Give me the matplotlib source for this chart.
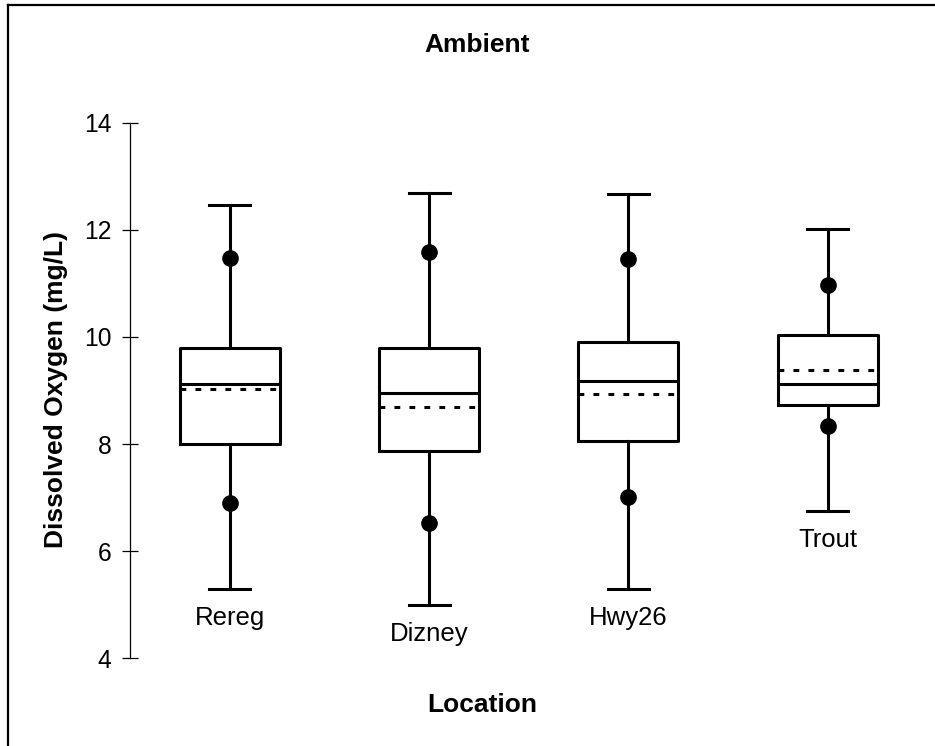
import matplotlib
matplotlib.use("Agg")
import matplotlib.pyplot as plt
from matplotlib.lines import Line2D

plt.rcParams['font.family'] = ['Liberation Sans', 'DejaVu Sans']

categories = ["Rereg", "Dizney", "Hwy26", "Trout"]
whisker_low = [5.30, 4.99, 5.29, 6.75]
p10 = [6.90, 6.53, 7.01, 8.34]
q1 = [8.00, 7.87, 8.06, 8.73]
median = [9.12, 8.96, 9.17, 9.13]
mean = [9.03, 8.69, 8.93, 9.38]
q3 = [9.79, 9.79, 9.90, 10.04]
p90 = [11.47, 11.58, 11.45, 10.97]
whisker_high = [12.47, 12.68, 12.67, 12.01]
yticks = [4, 6, 8, 10, 12, 14]

W, H = 935, 746
fig = plt.figure(figsize=(W / 100, H / 100), dpi=100)
ax = fig.add_axes([130.3 / W, 1 - 658.3 / H, (927.3 - 130.3) / W, (658.3 - 122.7) / H])

positions = list(range(1, len(categories) + 1))
stats = []
for i, c in enumerate(categories):
    stats.append(dict(label=c, med=median[i], q1=q1[i], q3=q3[i],
                      whislo=whisker_low[i], whishi=whisker_high[i],
                      mean=mean[i], fliers=[]))

lw = 2.2
ax.bxp(stats, positions=positions, widths=0.502, capwidths=0.206,
       showmeans=True, meanline=True, showfliers=False,
       boxprops=dict(color='black', linewidth=lw),
       whiskerprops=dict(color='black', linewidth=lw),
       capprops=dict(color='black', linewidth=lw),
       medianprops=dict(color='black', linewidth=lw),
       meanprops=dict(color='black', linewidth=lw, linestyle=(0, (1.9, 3.0))))

ax.plot(positions, p10, 'o', color='black', markersize=11, zorder=5)
ax.plot(positions, p90, 'o', color='black', markersize=11, zorder=5)

for i, c in enumerate(categories):
    ax.annotate(c, xy=(positions[i], whisker_low[i]), xytext=(0, -17),
                textcoords='offset pixels', ha='center', va='top', fontsize=18.5)

ax.set_xlim(0.5, len(categories) + 0.5)
ax.set_ylim(4, 14)
ax.set_yticks(yticks)
ax.set_yticklabels([str(t) for t in yticks])
ax.set_xticks([])
for s in ['top', 'right', 'bottom']:
    ax.spines[s].set_visible(False)
ax.spines['left'].set_linewidth(0.9)
ax.tick_params(axis='y', direction='inout', length=11.5, width=0.9,
               labelsize=17.7, pad=8)
ax.patch.set_alpha(0)

fig.text(477.5 / W, 1 - 52 / H, "Ambient", ha='center', va='baseline',
         fontsize=19, fontweight='bold')
fig.text(482 / W, 1 - 712 / H, "Location", ha='center', va='baseline',
         fontsize=19, fontweight='bold')
fig.text(55.5 / W, 1 - 390 / H, "Dissolved Oxygen (mg/L)", ha='center', va='center',
         rotation=90, fontsize=19, fontweight='bold')

# outer frame (top and left visible)
fig.add_artist(Line2D([8 / W, 1.0], [1 - 5 / H, 1 - 5 / H], color='black', linewidth=1.6,
                      transform=fig.transFigure))
fig.add_artist(Line2D([8 / W, 8 / W], [0.0, 1 - 5 / H], color='black', linewidth=1.6,
                      transform=fig.transFigure))

fig.savefig("out.png", dpi=100)
